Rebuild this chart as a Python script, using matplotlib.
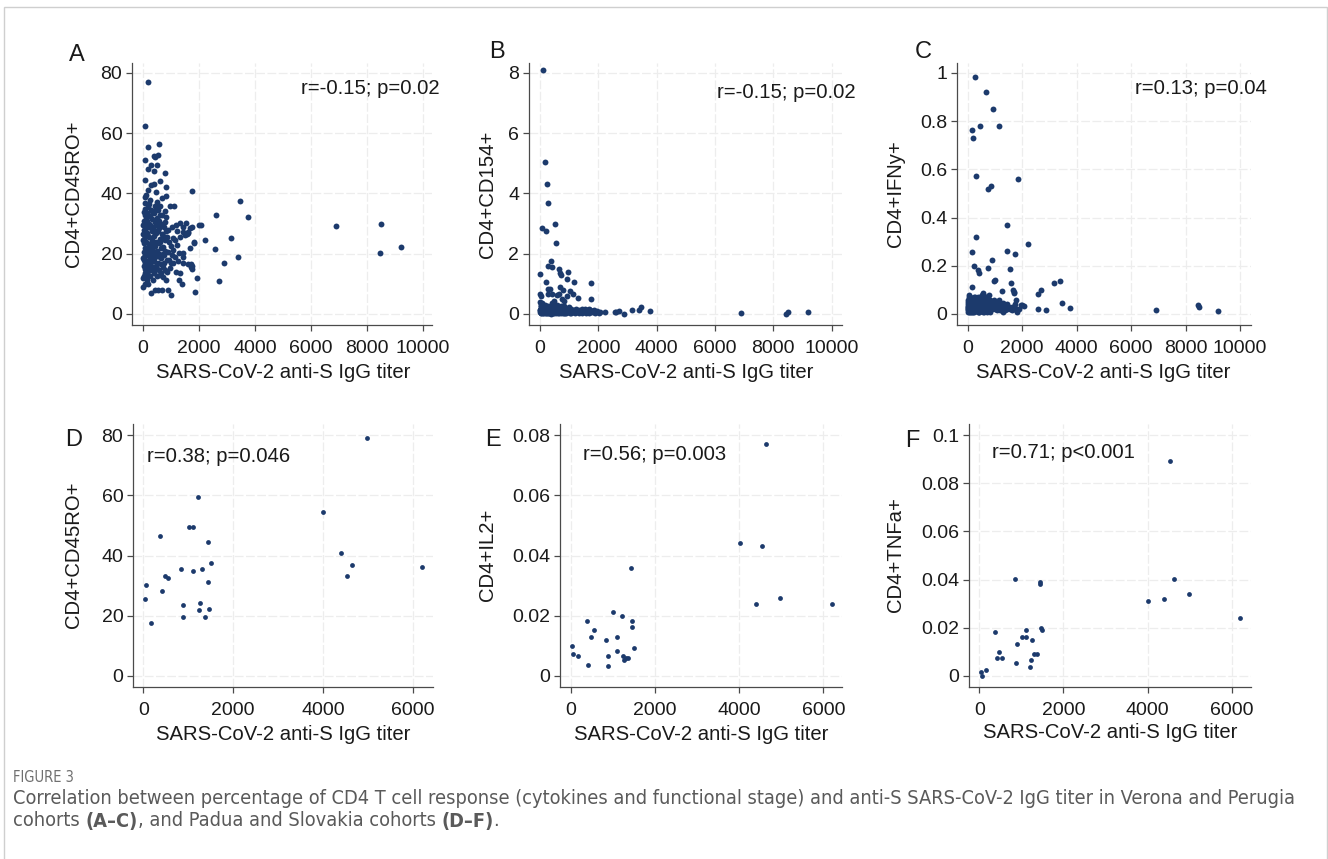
import matplotlib
matplotlib.use("Agg")
import matplotlib.pyplot as plt
from matplotlib.patches import Rectangle
from matplotlib.ticker import FuncFormatter

plt.rcParams['font.family'] = ['Liberation Sans', 'DejaVu Sans']

# ---------------- data: Verona and Perugia cohorts (A-C) ----------------
titer_vp = [5, 10, 12, 15, 20, 25, 30, 35, 40, 45, 50, 55, 60, 65, 70, 75, 80, 85, 90, 95, 100, 105, 110, 115, 120,
            125, 130, 12, 20, 30, 45, 60, 71, 83, 83, 83, 100, 119, 8, 50, 71,
            140, 150, 160, 170, 179, 180, 190, 190, 190, 200, 210, 220, 230, 240, 250, 260, 270, 280, 290, 300,
            145, 155, 165, 175, 185, 195, 205, 215, 225, 235, 245, 255, 265, 274, 274, 286, 295, 305,
            315, 325, 335, 345, 355, 365, 369, 375, 385, 393, 393, 400, 405, 410, 420, 429, 430, 440, 440, 450,
            460, 464, 470, 480, 490, 320, 340, 360, 380, 395, 415, 435, 455, 475, 485,
            500, 500, 510, 520, 536, 540, 548, 555, 560, 571, 575, 580, 590, 600, 607, 607, 615, 625, 635, 645,
            655, 665, 505, 530, 565, 595, 620, 650,
            690, 690, 702, 710, 726, 726, 740, 750, 760, 770, 786, 786, 786, 800, 810, 821, 821, 821, 835, 845,
            845, 680, 730, 775,
            869, 890, 905, 905, 918, 940, 964, 964, 988, 1004, 1012, 1024, 1040, 1060, 1060, 1083, 1095,
            1130, 1160, 1166, 1179, 1202, 1202, 1248, 1298, 1298, 1314, 1321, 1321, 1381, 1417, 1432, 1440, 1440,
            1444, 1500,
            1536, 1554, 1591, 1619, 1619, 1679, 1690, 1714, 1714, 1738, 1738, 1750, 1763, 1821, 1836, 1869, 1940,
            2012,
            2068, 2215, 2583, 2595, 2705, 2880, 3155, 3383, 3452, 3762, 6900, 8450, 8500, 9200]

cd45ro_vp = [24.5, 26.5, 9.1, 29.5, 23.5, 16.0, 31.0, 20.5, 28.0, 18.0, 25.0, 15.0, 22.0, 33.0, 17.0, 13.5, 27.0,
             35.0, 28.5, 17.5, 31.5, 20.0, 24.0, 14.0, 29.0, 33.5, 21.0, 11.8, 19.0, 12.5, 30.0, 37.0, 10.0, 62.5,
             51.2, 44.4, 26.0, 39.5, 18.5, 34.0, 38.7,
             27.0, 15.5, 19.5, 35.5, 77.0, 13.0, 55.3, 41.2, 10.0, 23.0, 30.0, 17.0, 25.5, 32.5, 19.5, 14.5, 28.5,
             22.0, 16.0, 34.5, 31.0, 11.3, 48.0, 20.5, 33.0, 26.0, 18.0, 36.5, 21.5, 12.5, 29.5, 16.5, 38.0, 49.3,
             7.1, 42.8, 23.5, 27.5,
             31.5, 18.5, 24.5, 15.0, 29.0, 21.0, 11.3, 33.5, 17.5, 52.6, 47.5, 26.0, 43.2, 13.5, 30.5, 8.0, 22.5,
             52.1, 19.0, 35.0, 27.0, 40.4, 16.0, 24.0, 32.0, 20.0, 34.0, 14.5, 28.0, 23.0, 36.0, 15.5, 29.5, 20.5,
             12.5,
             49.3, 37.3, 21.0, 27.5, 52.8, 17.0, 8.0, 31.0, 23.5, 56.5, 14.5, 28.5, 19.0, 33.0, 44.1, 12.9, 25.0,
             16.5, 22.0, 30.0, 18.5, 26.5, 15.0, 34.5, 20.0, 24.0, 36.0, 13.5,
             38.4, 8.0, 15.7, 26.0, 22.4, 12.4, 19.5, 29.0, 17.0, 24.5, 46.9, 34.3, 30.7, 21.0, 42.0, 39.2, 32.3,
             11.3, 27.5, 25.7, 17.9, 33.0, 20.0, 14.5,
             14.1, 28.0, 8.0, 20.7, 18.0, 24.0, 35.9, 15.2, 16.8, 22.5, 6.3, 29.0, 19.5, 25.1, 21.2, 16.8, 35.9,
             19.0, 24.5, 14.0, 29.5, 27.7, 22.9, 17.5, 20.1, 11.3, 25.5, 30.1, 13.5, 10.0, 27.3, 19.0, 20.4, 16.8,
             29.0, 26.2,
             30.1, 26.5, 27.0, 27.3, 16.6, 28.4, 21.8, 16.6, 15.7, 29.0, 40.8, 14.9, 16.0, 23.7, 23.8, 7.4, 11.8,
             29.7,
             29.5, 24.6, 21.7, 32.9, 10.8, 16.8, 25.1, 19.0, 37.6, 32.3, 29.2, 20.2, 30.0, 22.2]

cd154_vp = [0.66, 0.12, 0.05, 0.41, 0.20, 0.33, 0.08, 0.25, 0.15, 0.03, 0.18, 0.35, 0.10, 0.22, 2.87, 0.06, 0.14,
            0.28, 0.09, 0.17, 0.04, 0.21, 0.12, 8.10, 0.07, 0.16, 0.11, 1.32, 0.60, 0.02, 0.26, 0.13, 0.05, 0.19,
            0.08, 0.23, 0.30, 0.03, 0.14, 0.10, 0.13,
            0.12, 0.05, 0.22, 0.09, 0.15, 5.05, 0.02, 0.18, 0.27, 2.76, 0.07, 1.05, 0.13, 0.04, 4.32, 3.68, 0.19,
            0.82, 1.60, 0.10, 0.25, 0.06, 0.14, 0.31, 0.03, 0.11, 0.20, 0.08, 0.16, 0.24, 0.05, 0.12, 0.09, 0.28,
            0.02, 0.65, 0.15, 0.07,
            0.10, 0.04, 0.17, 0.83, 0.08, 0.21, 0.13, 0.03, 1.77, 0.11, 0.26, 0.06, 0.15, 0.65, 1.56, 0.09, 0.20,
            0.02, 0.14, 0.30, 0.07, 0.18, 0.44, 0.05, 0.12, 0.23, 0.06, 0.15, 0.01, 0.19, 0.35, 0.08, 0.24, 0.04,
            0.16,
            2.98, 0.12, 0.05, 0.21, 0.09, 0.16, 0.03, 0.25, 2.35, 0.63, 0.11, 0.07, 0.19, 0.04, 0.14, 0.28, 0.08,
            0.17, 0.02, 0.12, 1.48, 0.68, 0.22, 0.06, 0.10, 0.31, 0.05, 0.15,
            1.35, 0.91, 0.08, 1.30, 0.14, 0.03, 0.21, 0.06, 0.50, 0.12, 0.80, 0.05, 0.18, 0.09, 0.25, 0.43, 0.02,
            0.13, 0.07, 0.16, 0.04, 0.11, 0.27, 0.03,
            0.10, 0.05, 0.18, 0.03, 1.17, 0.61, 1.40, 0.12, 0.07, 0.22, 0.04, 0.09, 0.76, 0.15, 0.02, 0.11, 0.06,
            0.67, 0.05, 1.07, 0.12, 0.08, 0.03, 0.15, 0.06, 0.10, 0.52, 0.04, 0.13, 0.07, 0.11, 0.16, 0.02, 0.09,
            0.05, 0.14,
            0.08, 0.15, 0.04, 0.12, 0.06, 0.18, 0.03, 0.10, 0.14, 1.02, 0.51, 0.07, 0.11, 0.05, 0.13, 0.02, 0.09,
            0.04,
            0.06, 0.07, 0.06, 0.05, 0.11, 0.00, 0.12, 0.14, 0.22, 0.11, 0.02, 0.01, 0.05, 0.06]

ifng_vp = [0.03, 0.05, 0.02, 0.04, 0.06, 0.01, 0.07, 0.03, 0.05, 0.02, 0.04, 0.08, 0.03, 0.01, 0.06, 0.02, 0.05,
           0.04, 0.03, 0.07, 0.02, 0.01, 0.05, 0.03, 0.06, 0.04, 0.02, 0.035, 0.015, 0.045, 0.025, 0.055, 0.01,
           0.03, 0.04, 0.02, 0.065, 0.05, 0.025, 0.035, 0.04,
           0.04, 0.762, 0.02, 0.111, 0.05, 0.03, 0.06, 0.01, 0.04, 0.02, 0.731, 0.03, 0.200, 0.05, 0.07, 0.02,
           0.982, 0.04, 0.321, 0.03, 0.258, 0.01, 0.06, 0.04, 0.02, 0.05, 0.03, 0.07, 0.01, 0.045, 0.025, 0.055,
           0.035, 0.015, 0.065, 0.03, 0.02, 0.571,
           0.04, 0.02, 0.06, 0.03, 0.05, 0.01, 0.07, 0.03, 0.183, 0.04, 0.02, 0.05, 0.06, 0.03, 0.01, 0.171, 0.04,
           0.02, 0.07, 0.781, 0.03, 0.05, 0.04, 0.02, 0.06, 0.035, 0.015, 0.045, 0.025, 0.055, 0.01, 0.065, 0.03,
           0.045, 0.02,
           0.04, 0.06, 0.02, 0.08, 0.03, 0.05, 0.01, 0.07, 0.04, 0.089, 0.02, 0.06, 0.03, 0.05, 0.01, 0.075, 0.04,
           0.02, 0.06, 0.03, 0.05, 0.921, 0.035, 0.015, 0.045, 0.025, 0.065, 0.03,
           0.03, 0.05, 0.02, 0.07, 0.04, 0.01, 0.518, 0.03, 0.19, 0.06, 0.02, 0.04, 0.08, 0.03, 0.05, 0.01, 0.035,
           0.06, 0.02, 0.532, 0.04, 0.025, 0.055, 0.015,
           0.03, 0.222, 0.05, 0.02, 0.850, 0.04, 0.139, 0.06, 0.03, 0.141, 0.02, 0.045, 0.025, 0.05, 0.015, 0.035,
           0.02,
           0.03, 0.058, 0.781, 0.02, 0.04, 0.015, 0.097, 0.03, 0.01, 0.045, 0.02, 0.035, 0.015, 0.025, 0.260,
           0.02, 0.04, 0.370, 0.03,
           0.02, 0.188, 0.130, 0.03, 0.015, 0.100, 0.093, 0.086, 0.02, 0.249, 0.04, 0.025, 0.058, 0.01, 0.560,
           0.02, 0.037, 0.036,
           0.035, 0.289, 0.022, 0.082, 0.100, 0.017, 0.130, 0.139, 0.047, 0.025, 0.017, 0.037, 0.029, 0.014]

# ---------------- data: Padua and Slovakia cohorts (D-F) ----------------
titer_ps = [30, 65, 168, 382, 420, 475, 545, 850, 875, 892, 1010, 1100, 1105, 1215, 1240, 1255, 1310, 1370,
            1435, 1450, 1455, 1500, 4010, 4400, 4540, 4640, 4975, 6200]
cd45ro_ps = [25.6, 30.1, 17.5, 46.6, 28.1, 33.1, 32.4, 35.5, 19.5, 23.6, 49.4, 34.7, 49.4, 59.5, 21.9, 24.1, 35.4,
             19.7, 44.6, 31.1, 22.1, 37.6, 54.3, 40.7, 33.2, 36.8, 78.9, 36.1]
il2_ps = [0.0101, 0.0072, 0.0066, 0.0181, 0.0038, 0.0131, 0.0152, 0.0121, 0.0033, 0.0065, 0.0211, 0.0129, 0.0082,
          0.0200, 0.0066, 0.0053, 0.0060, 0.0060, 0.0360, 0.0181, 0.0162, 0.0094, 0.0440, 0.0240, 0.0430, 0.0770,
          0.0260, 0.0240]
tnfa_ps = [0.0015, 0.0001, 0.0024, 0.0181, 0.0076, 0.0101, 0.0076, 0.0401, 0.0053, 0.0131, 0.0160, 0.0160, 0.0189,
           0.0037, 0.0066, 0.0151, 0.0090, 0.0090, 0.0382, 0.0389, 0.0199, 0.0192, 0.0311, 0.0319, 0.0891, 0.0401,
           0.0340, 0.0241]

x_label = "SARS-CoV-2 anti-S IgG titer"
panel_letters = ["A", "B", "C", "D", "E", "F"]
y_labels = ["CD4+CD45RO+", "CD4+CD154+", "CD4+IFNy+", "CD4+CD45RO+", "CD4+IL2+", "CD4+TNFa+"]
stats = ["r=-0.15; p=0.02", "r=-0.15; p=0.02", "r=0.13; p=0.04",
         "r=0.38; p=0.046", "r=0.56; p=0.003", "r=0.71; p<0.001"]
xticks_vp = [0, 2000, 4000, 6000, 8000, 10000]
xticks_ps = [0, 2000, 4000, 6000]
yticks = [[0, 20, 40, 60, 80], [0, 2, 4, 6, 8], [0, 0.2, 0.4, 0.6, 0.8, 1],
          [0, 20, 40, 60, 80], [0, 0.02, 0.04, 0.06, 0.08], [0, 0.02, 0.04, 0.06, 0.08, 0.1]]
caption_title = "FIGURE 3"
caption_line1 = ("Correlation between percentage of CD4 T cell response (cytokines and functional stage) "
                 "and anti-S SARS-CoV-2 IgG titer in Verona and Perugia")
caption_line2 = [("cohorts ", False), ("(A\u2013C)", True), (", and Padua and Slovakia cohorts ", False),
                 ("(D\u2013F)", True), (".", False)]

assert len(titer_vp) == len(cd45ro_vp) == len(cd154_vp) == len(ifng_vp)
assert len(titer_ps) == len(cd45ro_ps) == len(il2_ps) == len(tnfa_ps)

W, H, DPI = 1328, 859, 100
fig = plt.figure(figsize=(W / DPI, H / DPI), dpi=DPI)
fig.patch.set_facecolor("white")

NAVY = "#1c3a6c"
SPINE = "#4a4a4a"
TXT = "#1a1a1a"


def fx(x):
    return x / W


def fy(y):
    return 1 - y / H


# frame around the whole figure
fig.patches.append(Rectangle((fx(4), -0.05), fx(1323), fy(7) + 0.05, transform=fig.transFigure,
                             fill=False, edgecolor="#cfcfcf", linewidth=1.0))

# layout (pixel geometry): left, right, top, bottom, x0px, x1px, xv1, y0px, y1px, yv1
geom = [
    (132, 432, 63, 325, 143.0, 423.0, 10000, 314, 73, 80),
    (529, 842, 63, 325, 540.0, 831.7, 10000, 314, 73, 8),
    (957, 1251, 63, 325, 967.7, 1240.0, 10000, 314, 73, 1),
    (133, 433, 424, 687, 143.3, 412.7, 6000, 676, 435, 80),
    (560, 842, 424, 687, 570.7, 823.3, 6000, 676, 435, 0.08),
    (969, 1251, 424, 687, 979.3, 1231.7, 6000, 676, 435, 0.1),
]
series = [(titer_vp, cd45ro_vp), (titer_vp, cd154_vp), (titer_vp, ifng_vp),
          (titer_ps, cd45ro_ps), (titer_ps, il2_ps), (titer_ps, tnfa_ps)]
msize = [18, 18, 18, 12, 12, 12]

letter_pos = [(77, 55), (497, 52), (923, 52), (74, 440), (493, 440), (912, 441)]
ylabel_pos = [(73, 194), (487, 194), (895, 194), (73, 555), (487, 555), (895, 555)]
xlabel_pos = [(283, 373), (686, 373), (1103, 373), (283, 735), (701, 735), (1110, 733)]
stat_pos = [(440, 88, "right"), (856, 93, "right"), (1267, 89, "right"),
            (147, 457, "left"), (583, 455, "left"), (992, 453, "left")]


def fmt(v, pos):
    return "%g" % v


for i in range(6):
    l, r, t, b, x0p, x1p, xv1, y0p, y1p, yv1 = geom[i]
    ax = fig.add_axes([fx(l), fy(b), (r - l) / W, (b - t) / H])
    sx = (x1p - x0p) / xv1
    ax.set_xlim(-(x0p - l) / sx, (r - x0p) / sx)
    sy = (y0p - y1p) / yv1
    ax.set_ylim(-(b - y0p) / sy, (y0p - t) / sy)
    xs, ys = series[i]
    ax.scatter(xs, ys, s=msize[i], color=NAVY, linewidths=0, zorder=3)
    ax.set_xticks(xticks_vp if i < 3 else xticks_ps)
    ax.set_yticks(yticks[i])
    ax.xaxis.set_major_formatter(FuncFormatter(fmt))
    ax.yaxis.set_major_formatter(FuncFormatter(fmt))
    ax.grid(True, color="#ededed", linestyle=(0, (7, 2)), linewidth=0.9)
    ax.set_axisbelow(True)
    for s in ("top", "right"):
        ax.spines[s].set_visible(False)
    for s in ("left", "bottom"):
        ax.spines[s].set_color(SPINE)
        ax.spines[s].set_linewidth(0.9)
    ax.tick_params(direction="out", length=4, width=0.9, color=SPINE, labelsize=14,
                   labelcolor=TXT, pad=3)
    ax.tick_params(axis="x", pad=7)
    ax.set_facecolor("white")

    lx, ly = letter_pos[i]
    fig.text(fx(lx), fy(ly), panel_letters[i], fontsize=17, color=TXT, ha="center", va="center")
    yx, yy = ylabel_pos[i]
    fig.text(fx(yx), fy(yy), y_labels[i], fontsize=14.6, color=TXT, ha="center", va="center", rotation=90)
    xx, xy = xlabel_pos[i]
    fig.text(fx(xx), fy(xy), x_label, fontsize=14.6, color=TXT, ha="center", va="center")
    sxp, syp, ha = stat_pos[i]
    fig.text(fx(sxp), fy(syp), stats[i], fontsize=14.6, color=TXT, ha=ha, va="center")

# caption (fitted to the reference line width)
cap_font = ["DejaVu Sans"]
fig.canvas.draw()
renderer = fig.canvas.get_renderer()


def fitted_size(text, target_w, base=12.0, weight="normal"):
    t = fig.text(0, 0, text, fontsize=base, family=cap_font, fontstretch="condensed", fontweight=weight)
    w = t.get_window_extent(renderer=renderer).width
    t.remove()
    return base * target_w / w


fig.text(fx(13), fy(778), caption_title, fontsize=10.5, color="#707070", ha="left", va="center",
         family=cap_font, fontstretch="condensed")

cap_size = fitted_size(caption_line1, 1277)


def chain(pieces, x, y):
    for txt, bold in pieces:
        t = fig.text(fx(x), fy(y), txt, fontsize=cap_size, color="#5a5a5a", ha="left", va="center",
                     family=cap_font, fontstretch="condensed", fontweight="bold" if bold else "normal")
        bb = t.get_window_extent(renderer=renderer)
        x += bb.width


chain([(caption_line1, False)], 13, 799)
chain(caption_line2, 13, 821)

fig.savefig("out.png", dpi=DPI, facecolor="white")
